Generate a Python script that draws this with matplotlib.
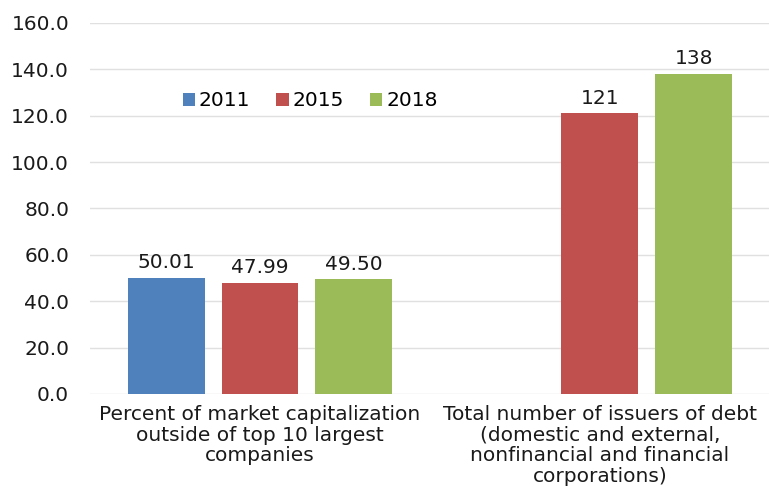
import numpy as np
import matplotlib.pyplot as plt

plt.rcParams["font.family"] = ["DejaVu Sans"]

categories = [
    "Percent of market capitalization\noutside of top 10 largest\ncompanies",
    "Total number of issuers of debt\n(domestic and external,\nnonfinancial and financial\ncorporations)",
]
years = ["2011", "2015", "2018"]
values_2011 = [50.01, np.nan]
values_2015 = [47.99, 121]
values_2018 = [49.50, 138]
labels_2011 = ["50.01", ""]
labels_2015 = ["47.99", "121"]
labels_2018 = ["49.50", "138"]

colors = ["#4F81BD", "#C0504D", "#9BBB59"]
series = [values_2011, values_2015, values_2018]
series_labels = [labels_2011, labels_2015, labels_2018]
fs = 14.5
txt = "#1a1a1a"

fig = plt.figure(figsize=(7.69, 4.87), dpi=100)
ax = fig.add_axes([0.117, 0.191, 0.884, 0.762])

x = np.arange(len(categories))
step = 0.276
width = 0.226
for i, (vals, labs, col, yr) in enumerate(zip(series, series_labels, colors, years)):
    bars = ax.bar(x + (i - 1) * step, vals, width, color=col, label=yr, zorder=2)
    ax.bar_label(bars, labels=labs, padding=4, fontsize=fs, color=txt)

ax.set_xlim(-0.5, 1.5)
ax.set_ylim(0, 160)
ax.set_yticks(np.arange(0, 161, 20))
ax.set_yticklabels([f"{v:.1f}" for v in np.arange(0, 161, 20)], fontsize=fs, color=txt)
ax.set_xticks(x)
ax.set_xticklabels(categories, fontsize=fs, color=txt, linespacing=1.1)
ax.tick_params(axis="both", length=0)
ax.tick_params(axis="y", pad=15)
ax.tick_params(axis="x", pad=8)

ax.grid(axis="y", color="#e0e0e0", linewidth=1, zorder=0)
for s in ax.spines.values():
    s.set_visible(False)

ax.legend(loc="center", bbox_to_anchor=(0.324, 0.79), ncol=3, frameon=False,
          fontsize=fs, handlelength=0.6, handleheight=0.6, handletextpad=0.2,
          columnspacing=1.3)

fig.savefig("out.png", dpi=100)
